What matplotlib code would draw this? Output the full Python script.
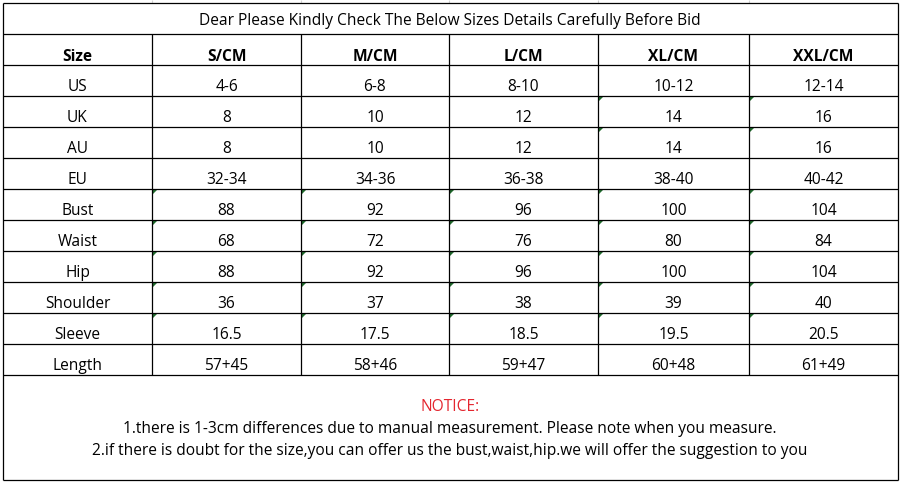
import matplotlib.pyplot as plt
from matplotlib.patches import Polygon

title = "Dear Please Kindly Check The Below Sizes Details Carefully Before Bid"
header = ["Size", "S/CM", "M/CM", "L/CM", "XL/CM", "XXL/CM"]
row_labels = ["US", "UK", "AU", "EU", "Bust", "Waist", "Hip", "Shoulder", "Sleeve", "Length"]
s_vals = ["4-6", "8", "8", "32-34", "88", "68", "88", "36", "16.5", "57+45"]
m_vals = ["6-8", "10", "10", "34-36", "92", "72", "92", "37", "17.5", "58+46"]
l_vals = ["8-10", "12", "12", "36-38", "96", "76", "96", "38", "18.5", "59+47"]
xl_vals = ["10-12", "14", "14", "38-40", "100", "80", "100", "39", "19.5", "60+48"]
xxl_vals = ["12-14", "16", "16", "40-42", "104", "84", "104", "40", "20.5", "61+49"]
notice_title = "NOTICE:"
notice_lines = [
    "1.there is 1-3cm differences due to manual measurement. Please note when you measure.",
    "2.if there is doubt for the size,you can offer us the bust,waist,hip.we will offer the suggestion to you",
]
# cells flagged with the little green corner mark (row index, column index)
flagged = [(1, 4), (1, 5), (2, 4), (2, 5)] + [(r, c) for r in range(4, 9) for c in range(1, 6)]

plt.rcParams['font.family'] = ['Open Sans', 'DejaVu Sans']

fig = plt.figure(figsize=(9.01, 4.83), dpi=100)
ax = fig.add_axes([0, 0, 1, 1])
ax.set_xlim(0, 901)
ax.set_ylim(483, 0)
ax.axis('off')

cols = [3, 152, 301, 449, 598, 749, 898]
top, title_bot, head_bot, row_h = 3, 34, 65, 31
table_bot = head_bot + row_h * len(row_labels)
bottom = 480
lw = 0.9

# faint spreadsheet grid above the table
ax.vlines(cols[1:-1], 0, top, color='#d4d4d4', lw=0.8)

# borders
ax.hlines([top, title_bot, head_bot, table_bot, bottom], cols[0], cols[-1], color='black', lw=lw)
ax.hlines([head_bot + row_h * i for i in range(1, len(row_labels))], cols[0], cols[-1], color='black', lw=lw)
ax.vlines([cols[0], cols[-1]], top, bottom, color='black', lw=lw)
ax.vlines(cols[1:-1], title_bot, table_bot, color='black', lw=lw)

fs = 11.2
ax.text(450, title_bot - 9, title, ha='center', va='baseline', fontsize=fs)

centers = [(cols[i] + cols[i + 1]) / 2 for i in range(6)]
for x, h in zip(centers, header):
    ax.text(x, head_bot - 4, h, ha='center', va='baseline', fontsize=fs, fontweight='bold')

table = [row_labels, s_vals, m_vals, l_vals, xl_vals, xxl_vals]
for c, column in enumerate(table):
    for r, v in enumerate(column):
        y = head_bot + row_h * (r + 1) - 5
        ax.text(centers[c], y, v, ha='center', va='baseline', fontsize=fs)

for r, c in flagged:
    x0 = cols[c] + 0.5
    y0 = head_bot + row_h * r + 0.5
    ax.add_patch(Polygon([(x0, y0), (x0 + 5, y0), (x0, y0 + 5)], closed=True,
                         facecolor='#1f6b2c', edgecolor='none'))

ax.text(450, 411, notice_title, ha='center', va='baseline', fontsize=fs, color='#e4262f')
ax.text(450, 433, notice_lines[0], ha='center', va='baseline', fontsize=fs)
ax.text(450, 455, notice_lines[1], ha='center', va='baseline', fontsize=fs)

fig.savefig('out.png', dpi=100, facecolor='white')
